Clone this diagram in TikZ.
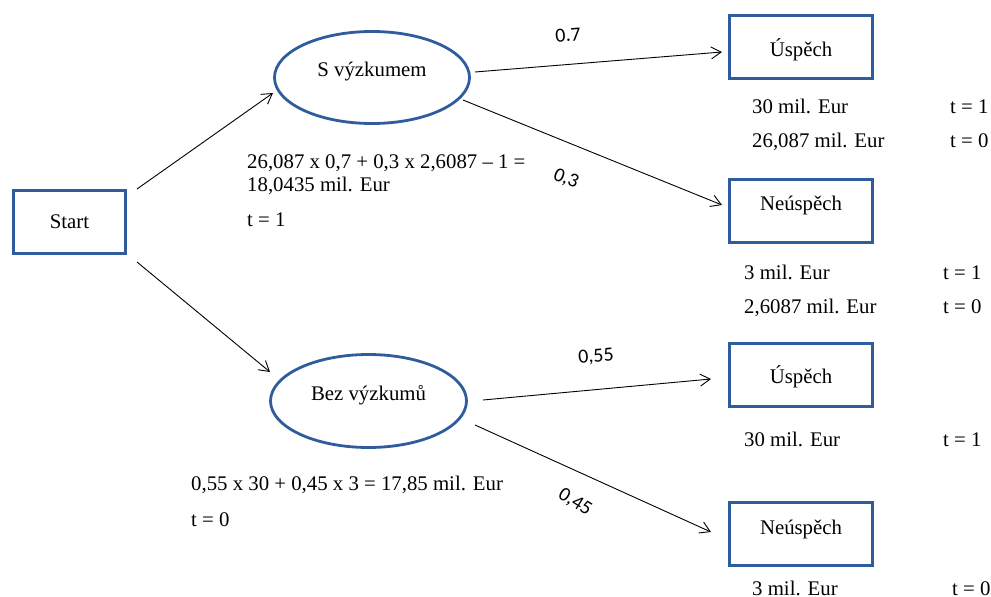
\documentclass[tikz,border=0pt]{standalone}
\usepackage{fontspec}
\setmainfont{Liberation Serif}
\newfontfamily\probfont{Carlito}
\usetikzlibrary{shapes.geometric,arrows.meta}
\definecolor{outline}{RGB}{46,92,156}
\begin{document}
\begin{tikzpicture}[x=1pt,y=-1pt,
  every node/.style={font=\fontsize{20.8}{24}\selectfont},
  box/.style={draw=outline,line width=2.8pt,rectangle,minimum width=143pt,minimum height=63pt,inner sep=0pt},
  chance/.style={draw=outline,line width=2.8pt,ellipse,minimum width=195pt,minimum height=92pt,inner sep=0pt},
  branch/.style={line width=0.9pt,-{Straight Barb[length=10pt,width=12pt]}},
  prob/.style={font=\probfont\fontsize{20}{24}\selectfont,inner sep=0pt},
  val/.style={anchor=base west,inner sep=0pt}]
\useasboundingbox (0,0) rectangle (991,597);

% decision node and the two chance nodes
\node[box,minimum width=112pt] (start) at (69.5,222) {Start};
\node[chance,label={[name=slabel,yshift=6pt]center:S výzkumem}] (s) at (372,77.5) {};
\node[chance,minimum width=196pt,minimum height=93pt,label={[name=bezlabel,yshift=6pt]center:Bez výzkumů}] (bez) at (368.5,401) {};

% outcomes
\node[box,label={[name=u1label,yshift=-3pt]center:Úspěch}] (u1) at (801,47) {};
\node[box,label={[name=n1label,yshift=6pt]center:Neúspěch}] (n1) at (801,211) {};
\node[box,label={[name=u2label,yshift=-2pt]center:Úspěch}] (u2) at (801,375) {};
\node[box,label={[name=n2label,yshift=5pt]center:Neúspěch}] (n2) at (801,534) {};

% branches
\draw[branch] ([shift={(67.5,-33)}]start.center) -- ([shift={(-99,15.5)}]s.center);
\draw[branch] ([shift={(67.5,40)}]start.center) -- ([shift={(-98.5,-29)}]bez.center);
\draw[branch] ([shift={(103,-5.5)}]s.center) -- ([shift={(-79,5)}]u1.center);
\draw[branch] ([shift={(91,22.5)}]s.center) -- ([shift={(-79,-6)}]n1.center);
\draw[branch] ([shift={(114.5,-1)}]bez.center) -- ([shift={(-90,4)}]u2.center);
\draw[branch] ([shift={(106.5,24)}]bez.center) -- ([shift={(-90,-2)}]n2.center);

% probabilities
\node[prob,rotate=4.6] (p1) at (568,35) {0.7};
\node[prob,rotate=-22] (p2) at (566,179) {0,3};
\node[prob,rotate=5] (p3) at (596,357) {0,55};
\node[prob,rotate=-32] (p4) at (575,502) {0,45};

% expected values
\node[val] (ev1a) at (247,168) {26,087 x 0,7 + 0,3 x 2,6087 – 1 =};
\node[val] (ev1b) at (247,191) {18,0435 mil. Eur};
\node[val] (ev1t) at (247,226) {t = 1};
\node[val] (ev2a) at (191,490) {0,55 x 30 + 0,45 x 3 = 17,85 mil. Eur};
\node[val] (ev2t) at (191,526) {t = 0};

% payoffs
\node[val] (v1) at (752,113) {30 mil. Eur};
\node[val] (t1) at (950,113) {t = 1};
\node[val] (v2) at (752,147) {26,087 mil. Eur};
\node[val] (t2) at (950,147) {t = 0};
\node[val] (v3) at (744,279) {3 mil. Eur};
\node[val] (t3) at (943,279) {t = 1};
\node[val] (v4) at (744,313) {2,6087 mil. Eur};
\node[val] (t4) at (943,313) {t = 0};
\node[val] (v5) at (744,446) {30 mil. Eur};
\node[val] (t5) at (943,446) {t = 1};
\node[val] (v6) at (752,595) {3 mil. Eur};
\node[val] (t6) at (952,595) {t = 0};
\end{tikzpicture}
\end{document}
